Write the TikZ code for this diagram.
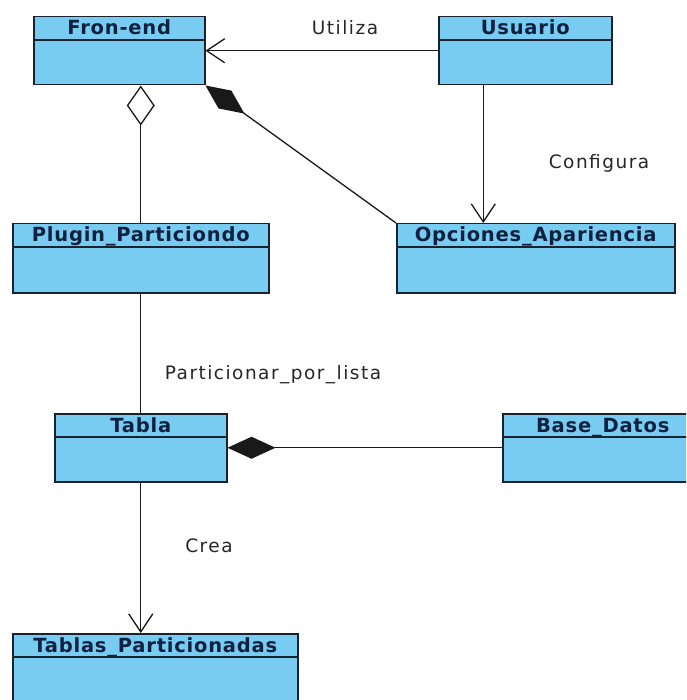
\documentclass[tikz,border=0pt]{standalone}
\usepackage{fontspec}
\setmainfont{DejaVu Sans}
\newfontfamily\headfont[LetterSpace=4]{DejaVu Sans}
\newfontfamily\labelfont[LetterSpace=8]{DejaVu Sans}
\usetikzlibrary{positioning,arrows.meta}
\definecolor{classfill}{HTML}{78CCF2}
\definecolor{classtext}{HTML}{10203F}
\definecolor{classline}{HTML}{1A2230}
\tikzset{
  classbox/.style={draw=classline, fill=classfill, line width=1.5pt,
    anchor=north west, minimum height=68pt, inner sep=0pt},
  classname/.style={font=\headfont\bfseries\fontsize{19.5}{22}\selectfont, text=classtext,
    text height=14pt, text depth=0pt, inner sep=0pt},
  rolelabel/.style={font=\labelfont\fontsize{18.5}{21}\selectfont, text=black!85, inner sep=0pt},
  link/.style={line width=1.3pt, draw=black!90},
  openarrow/.style={-{Straight Barb[length=18pt,width=24pt,line width=1.3pt]}},
  aggr/.style={-{Diamond[open,length=40pt,width=28pt,line width=1.3pt]}},
  compo/.style={-{Diamond[length=48pt,width=22pt]}}
}
% class box: name, x, y, width, height, title
\newcommand{\umlclass}[6]{
  \node[classbox, minimum width=#4pt, minimum height=#5pt] (#1) at (#2,#3) {};
  \node[classname] (#1-title) at ([yshift=-12pt]#1.north) {#6};
  \draw[draw=classline, line width=1.2pt] ([yshift=-24pt]#1.north west) -- ([yshift=-24pt]#1.north east);
}
\begin{document}
\begin{tikzpicture}[x=1pt, y=-1pt]
  \useasboundingbox (0,0) rectangle (686,700);
  \clip (0,0) rectangle (686,700);

  \umlclass{frontend}{33}{16}{171}{68}{Fron-end}
  \umlclass{usuario}{438}{16}{173}{68}{Usuario}
  \umlclass{plugin}{12}{223}{256}{69}{Plugin\_Particiondo}
  \umlclass{opciones}{396}{223}{278}{69}{Opciones\_Apariencia}
  \umlclass{tabla}{54}{413}{172}{68}{Tabla}
  \umlclass{basedatos}{502}{413}{200}{68}{Base\_Datos}
  \umlclass{tablaspart}{12}{633}{285}{90}{Tablas\_Particionadas}

  % associations
  \draw[link, openarrow] (usuario.west) -- (frontend.east);
  \draw[link, openarrow] ([xshift=-42pt]usuario.south) -- ([xshift=-42pt]usuario.south |- opciones.north);
  \draw[link, aggr] (plugin.north) -- (plugin.north |- frontend.south);
  \draw[link, compo] (opciones.north west) -- (frontend.south east);
  \draw[link] (plugin.south) -- (tabla.north);
  \draw[link, compo] (basedatos.west) -- (tabla.east);
  \draw[link, openarrow] (tabla.south) -- (tabla.south |- tablaspart.north);

  \node[rolelabel] (utiliza) at (345,28) {Utiliza};
  \node[rolelabel] (configura) at (599,163) {Configura};
  \node[rolelabel] (particionar) at (273,375) {Particionar\_por\_lista};
  \node[rolelabel] (crea) at (209,546) {Crea};
\end{tikzpicture}
\end{document}
